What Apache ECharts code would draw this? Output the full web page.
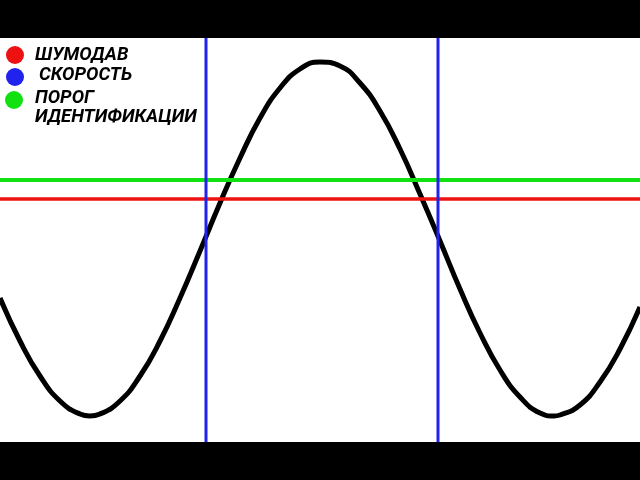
<!DOCTYPE html>
<html>
<head>
<meta charset="utf-8">
<script src="https://cdn.jsdelivr.net/npm/echarts@6/dist/echarts.min.js"></script>
<style>
html,body{margin:0;padding:0;background:#000;}
#chart{width:640px;height:480px;}
</style>
</head>
<body>
<div id="chart"></div>
<script>
// Signal curve (x position, level)
const waveX = [0,20,40,60,80,90,100,120,140,160,180,200,220,240,260,280,300,320,340,360,380,400,420,440,460,480,500,520,540,554,560,580,600,620,640];
const waveY = [144,101,66,41,28,26,28,41,66,101,144,191,239,284,324,354,373,380,376,359,331,293,248,201,153,109,72,45,29,26,27,37,60,93,135];
// Threshold levels
const noiseGateLevel = 243;   // ШУМОДАВ (red)
const thresholdLevel = 262;   // ПОРОГ ИДЕНТИФИКАЦИИ (green)
// Speed markers (blue verticals)
const speedX = [206, 438];
const xRange = [0, 640];
const yRange = [0, 404];

const legendItems = [
  {name: 'ШУМОДАВ', color: '#ee1111'},
  {name: 'СКОРОСТЬ', color: '#2222ee'},
  {name: 'ПОРОГ\nИДЕНТИФИКАЦИИ', color: '#11e011'}
];

const chart = echarts.init(document.getElementById('chart'), null, {renderer: 'canvas'});

const series = [
  {
    type: 'line', name: 'signal', data: waveX.map((x, i) => [x, waveY[i]]),
    smooth: true, symbol: 'none', lineStyle: {color: '#000', width: 5}, z: 2, silent: true
  },
  {
    type: 'line', name: 'ШУМОДАВ', data: xRange.map(x => [x, noiseGateLevel]),
    symbol: 'none', lineStyle: {color: '#ee1111', width: 3.5}, z: 3, silent: true
  },
  {
    type: 'line', name: 'ПОРОГ\nИДЕНТИФИКАЦИИ', data: xRange.map(x => [x, thresholdLevel]),
    symbol: 'none', lineStyle: {color: '#11e011', width: 4}, z: 3, silent: true
  }
];
speedX.forEach(x => {
  series.push({
    type: 'line', name: 'СКОРОСТЬ', data: yRange.map(y => [x, y]),
    symbol: 'none', lineStyle: {color: '#2222ee', width: 3}, z: 4, silent: true
  });
});

const textPos = [
  {x: 35, y: 56, lines: ['ШУМОДАВ']},
  {x: 39, y: 76, lines: ['СКОРОСТЬ']},
  {x: 35, y: 98.5, lines: ['ПОРОГ', 'ИДЕНТИФИКАЦИИ']}
];
const circlePos = [{x: 15, y: 55}, {x: 15, y: 77}, {x: 14, y: 100}];

const graphic = [];
legendItems.forEach((it, i) => {
  graphic.push({
    type: 'circle', shape: {cx: circlePos[i].x, cy: circlePos[i].y, r: 9},
    style: {fill: it.color}, z: 10
  });
  graphic.push({
    type: 'text', x: textPos[i].x, y: textPos[i].y - 10,
    style: {
      text: textPos[i].lines.join('\n'), fill: '#000',
      font: 'italic bold 18.5px Roboto', lineHeight: 19.5, textVerticalAlign: 'top'
    }, z: 10
  });
});

chart.setOption({
  backgroundColor: '#000',
  animation: false,
  grid: {left: 0, right: 0, top: 38, bottom: 38, show: true, backgroundColor: '#fff', borderWidth: 0},
  xAxis: {type: 'value', min: xRange[0], max: xRange[1], show: false},
  yAxis: {type: 'value', min: yRange[0], max: yRange[1], show: false},
  series: series,
  graphic: graphic
});
</script>
</body>
</html>
